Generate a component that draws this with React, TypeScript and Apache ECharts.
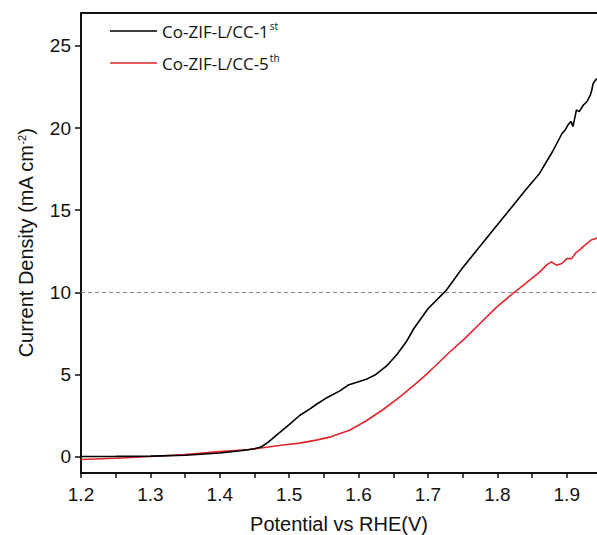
import React, { useEffect, useRef } from "react";
import * as echarts from "echarts";

const blackPotential = [1.2, 1.25, 1.3, 1.35, 1.4, 1.43, 1.45, 1.46, 1.47, 1.48, 1.49, 1.5, 1.515, 1.53, 1.54, 1.555, 1.573, 1.585, 1.6, 1.611, 1.625, 1.64, 1.655, 1.669, 1.679, 1.7, 1.727, 1.75, 1.775, 1.796, 1.823, 1.84, 1.861, 1.88, 1.893, 1.898, 1.902, 1.906, 1.909, 1.914, 1.918, 1.924, 1.929, 1.934, 1.936, 1.938, 1.941, 1.944];
const blackCurrent = [0.0, 0.01, 0.03, 0.08, 0.22, 0.35, 0.48, 0.6, 0.88, 1.25, 1.6, 1.95, 2.5, 2.9, 3.2, 3.6, 4.0, 4.35, 4.55, 4.7, 5.0, 5.5, 6.2, 7.0, 7.75, 9.0, 10.15, 11.5, 12.8, 13.9, 15.3, 16.2, 17.25, 18.6, 19.65, 19.9, 20.2, 20.4, 20.1, 21.1, 21.0, 21.4, 21.6, 22.0, 22.3, 22.7, 22.9, 23.0];

const redPotential = [1.2, 1.25, 1.3, 1.35, 1.4, 1.443, 1.47, 1.491, 1.515, 1.539, 1.56, 1.587, 1.61, 1.635, 1.66, 1.683, 1.695, 1.71, 1.731, 1.751, 1.775, 1.799, 1.823, 1.835, 1.847, 1.86, 1.872, 1.878, 1.885, 1.893, 1.9, 1.907, 1.913, 1.919, 1.927, 1.936, 1.944];
const redCurrent = [-0.18, -0.1, 0.0, 0.12, 0.3, 0.43, 0.58, 0.7, 0.82, 1.0, 1.2, 1.6, 2.15, 2.85, 3.65, 4.45, 4.9, 5.5, 6.35, 7.1, 8.1, 9.1, 9.95, 10.35, 10.75, 11.2, 11.7, 11.85, 11.65, 11.75, 12.05, 12.05, 12.4, 12.6, 12.9, 13.2, 13.3];

const seriesNames = ["Co-ZIF-L/CC-1st", "Co-ZIF-L/CC-5th"];
const yTickValues = [0, 5, 10, 15, 20, 25];
const referenceCurrent = 10;

const App: React.FC = () => {
  const ref = useRef<HTMLDivElement>(null);
  useEffect(() => {
    if (!ref.current) return;
    const chart = echarts.init(ref.current, null, { renderer: "svg" });
    const font = "'Liberation Sans', Arial, sans-serif";
    const zip = (xs: number[], ys: number[]) => xs.map((x, i) => [x, ys[i]]);
    chart.setOption({
      animation: false,
      grid: { left: 81, right: 0, top: 13, bottom: 62, containLabel: false, outerBoundsMode: "none" },
      legend: {
        orient: "vertical",
        left: 105,
        top: 16,
        itemWidth: 47,
        itemHeight: 1.6,
        itemGap: 12,
        data: seriesNames.map((n) => ({ name: n, icon: "rect" })),
        formatter: (name: string) => name.replace(/(st|th)$/, "{sup|$1}"),
        textStyle: {
          fontFamily: "'Open Sans', sans-serif",
          fontSize: 17,
          color: "#111",
          lineHeight: 20,
          rich: {
            sup: { fontSize: 10, verticalAlign: "top", lineHeight: 20, padding: [0, 0, 10, 1], fontFamily: "'Open Sans', sans-serif", color: "#111" },
          },
        },
      },
      xAxis: [
        {
          type: "value",
          position: "bottom",
          min: 1.2,
          max: 1.9436,
          interval: 0.05,
          name: "Potential vs RHE(V)",
          nameLocation: "middle",
          nameGap: 41,
          nameTextStyle: { fontFamily: font, fontSize: 20, color: "#111" },
          axisLine: { show: true, onZero: false, lineStyle: { color: "#111", width: 2 } },
          axisTick: { show: true, inside: false, length: 5, lineStyle: { color: "#111", width: 1.5 } },
          axisLabel: {
            fontFamily: font,
            fontSize: 19,
            color: "#111",
            margin: 12,
            showMaxLabel: false,
            formatter: (v: number) => (Math.round(v * 100) % 10 === 0 ? v.toFixed(1) : ""),
          },
          splitLine: { show: false },
        },
        {
          type: "value",
          position: "top",
          min: 1.2,
          max: 1.9436,
          axisLine: { show: true, onZero: false, lineStyle: { color: "#111", width: 2 } },
          axisTick: { show: false },
          axisLabel: { show: false },
          splitLine: { show: false },
        },
      ],
      yAxis: {
        type: "value",
        min: -1,
        max: 27,
        name: "Current Density (mA cm{sup|-2})",
        nameLocation: "middle",
        nameGap: 45,
        nameTextStyle: {
          fontFamily: font,
          fontSize: 20,
          color: "#111",
          rich: {
            sup: { fontFamily: font, fontSize: 11, color: "#111", verticalAlign: "top", padding: [0, 0, 9, 0] },
          },
        },
        axisLine: { show: true, onZero: false, lineStyle: { color: "#111", width: 2 } },
        axisTick: { show: true, inside: false, length: 6, customValues: yTickValues, lineStyle: { color: "#111", width: 1.5 } },
        axisLabel: { fontFamily: font, fontSize: 19, color: "#111", margin: 10, customValues: yTickValues },
        splitLine: { show: false },
      },
      series: [
        {
          name: seriesNames[0],
          type: "line",
          data: zip(blackPotential, blackCurrent),
          symbol: "none",
          lineStyle: { color: "#000", width: 1.6 },
          itemStyle: { color: "#000" },
          z: 3,
          markLine: {
            silent: true,
            symbol: "none",
            label: { show: false },
            lineStyle: { color: "#888", type: [4, 3], width: 1.2 },
            data: [{ yAxis: referenceCurrent }],
          },
        },
        {
          name: seriesNames[1],
          type: "line",
          data: zip(redPotential, redCurrent),
          symbol: "none",
          lineStyle: { color: "#e0262a", width: 1.6 },
          itemStyle: { color: "#e0262a" },
          z: 2,
        },
      ],
    });
    return () => chart.dispose();
  }, []);
  return <div ref={ref} style={{ width: 597, height: 535, position: "absolute", left: 0, top: 0 }} />;
};

export default App;
